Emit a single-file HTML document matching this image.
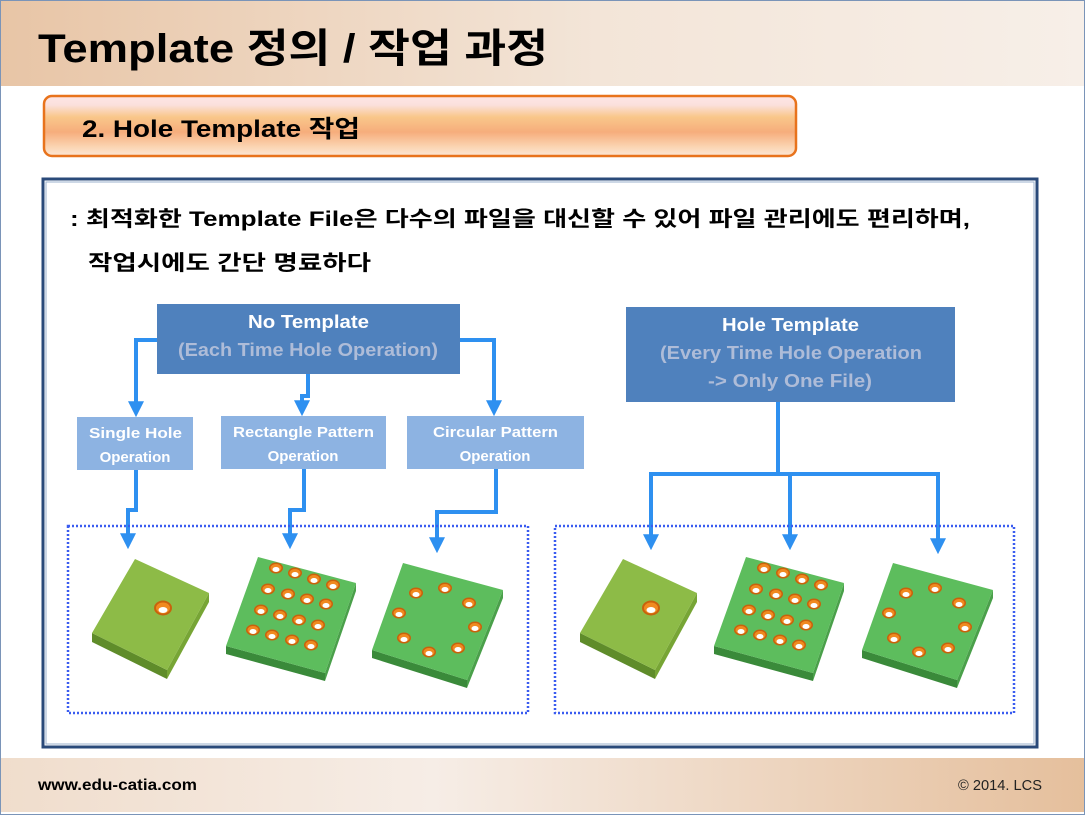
<!DOCTYPE html>
<html><head><meta charset="utf-8"><style>
html,body{margin:0;padding:0;background:#fff}
svg{display:block}
text{font-family:"Liberation Sans","Noto Sans CJK KR",sans-serif;font-weight:bold}
</style></head><body>
<svg width="1085" height="815" viewBox="0 0 1085 815" xmlns="http://www.w3.org/2000/svg">
<defs>
<linearGradient id="hdr" x1="0" x2="1" y1="0" y2="0"><stop offset="0" stop-color="#e8c5a6"/><stop offset="0.55" stop-color="#f3e5d8"/><stop offset="1" stop-color="#f7efe8"/></linearGradient>
<linearGradient id="ftr" x1="0" x2="1" y1="0" y2="0"><stop offset="0" stop-color="#f0ddcc"/><stop offset="0.4" stop-color="#f6ede6"/><stop offset="1" stop-color="#e5bf9c"/></linearGradient>
<linearGradient id="org" x1="0" x2="0" y1="0" y2="1"><stop offset="0" stop-color="#fde6e6"/><stop offset="0.15" stop-color="#fbe0dc"/><stop offset="0.35" stop-color="#f9c78a"/><stop offset="0.6" stop-color="#f6ad7c"/><stop offset="0.85" stop-color="#fbd5b3"/><stop offset="1" stop-color="#fce7d6"/></linearGradient>
<g id="hole"><ellipse rx="7" ry="5.5" fill="#c8620c"/><ellipse rx="5.5" ry="4" fill="#f08a20"/><ellipse cy="1.5" rx="3.5" ry="2.5" fill="#fff"/></g>
<g id="bighole"><ellipse rx="9" ry="7.5" fill="#c8620c"/><ellipse rx="7" ry="5.5" fill="#f08a20"/><ellipse cy="2" rx="4.5" ry="3" fill="#fff"/></g>
<marker id="ah" viewBox="0 0 10 10" refX="3" refY="5" markerWidth="4" markerHeight="4" orient="auto" markerUnits="strokeWidth"><path d="M0,0 L10,5 L0,10 z" fill="#2e90f0"/></marker>
<g id="p1">
<polygon points="92,633 167,670 167,679 92,642" fill="#5f8c2a"/>
<polygon points="167,670 209,593 209,602 167,679" fill="#77a535"/>
<polygon points="92,633 135,559 209,593 167,670" fill="#8dbb47"/>
<use href="#bighole" x="163" y="608"/>
</g>
<g id="p2">
<polygon points="226,646 325,673 325,681 226,654" fill="#3a8a3a"/>
<polygon points="325,673 356,583 356,591 325,681" fill="#4aa04a"/>
<polygon points="226,646 258,557 356,583 325,673" fill="#5dbd5d"/>
<use href="#hole" x="276" y="568"/><use href="#hole" x="295" y="573"/><use href="#hole" x="314" y="579"/><use href="#hole" x="333" y="585"/>
<use href="#hole" x="268" y="589"/><use href="#hole" x="288" y="594"/><use href="#hole" x="307" y="599"/><use href="#hole" x="326" y="604"/>
<use href="#hole" x="261" y="610"/><use href="#hole" x="280" y="615"/><use href="#hole" x="299" y="620"/><use href="#hole" x="318" y="625"/>
<use href="#hole" x="253" y="630"/><use href="#hole" x="272" y="635"/><use href="#hole" x="292" y="640"/><use href="#hole" x="311" y="645"/>
</g>
<g id="p3">
<polygon points="372,650 467,680 467,688 372,658" fill="#3a8a3a"/>
<polygon points="467,680 503,590 503,598 467,688" fill="#4aa04a"/>
<polygon points="372,650 403,563 503,590 467,680" fill="#5dbd5d"/>
<use href="#hole" x="416" y="593"/><use href="#hole" x="445" y="588"/><use href="#hole" x="469" y="603"/><use href="#hole" x="399" y="613"/>
<use href="#hole" x="475" y="627"/><use href="#hole" x="404" y="638"/><use href="#hole" x="429" y="652"/><use href="#hole" x="458" y="648"/>
</g>
</defs>
<rect x="0" y="0" width="1085" height="815" fill="#fff"/>
<rect x="0" y="0" width="1085" height="86" fill="url(#hdr)"/>
<text x="38" y="62" font-size="40" fill="#000" textLength="510" lengthAdjust="spacingAndGlyphs">Template 정의 / 작업 과정</text>
<rect x="44" y="96" width="752" height="60" rx="8" fill="url(#org)" stroke="#e8731c" stroke-width="2.5"/>
<text x="82" y="137" font-size="24" fill="#000" textLength="278" lengthAdjust="spacingAndGlyphs">2. Hole Template 작업</text>
<rect x="43" y="179" width="994" height="568" fill="#fff" stroke="#2a4a7a" stroke-width="3"/>
<rect x="46" y="182" width="988" height="562" fill="none" stroke="#9bb1cc" stroke-width="1"/>
<text x="70" y="226" font-size="21" fill="#000" textLength="900" lengthAdjust="spacingAndGlyphs">: 최적화한 Template File은 다수의 파일을 대신할 수 있어 파일 관리에도 편리하며,</text>
<text x="88" y="270" font-size="21" fill="#000" textLength="283" lengthAdjust="spacingAndGlyphs">작업시에도 간단 명료하다</text>

<rect x="157" y="304" width="303" height="70" fill="#4f81bd"/>
<text x="248" y="328" font-size="18" fill="#fff" textLength="121" lengthAdjust="spacingAndGlyphs">No Template</text>
<text x="178" y="356" font-size="18" fill="#aebcd8" textLength="260" lengthAdjust="spacingAndGlyphs">(Each Time Hole Operation)</text>
<rect x="77" y="417" width="116" height="53" fill="#8db3e2"/>
<text x="89" y="438" font-size="15" fill="#fff" textLength="93" lengthAdjust="spacingAndGlyphs">Single Hole</text>
<text x="135" y="462" font-size="15" fill="#fff" text-anchor="middle">Operation</text>
<rect x="221" y="416" width="165" height="53" fill="#8db3e2"/>
<text x="233" y="437" font-size="15" fill="#fff" textLength="141" lengthAdjust="spacingAndGlyphs">Rectangle Pattern</text>
<text x="303" y="461" font-size="15" fill="#fff" text-anchor="middle">Operation</text>
<rect x="407" y="416" width="177" height="53" fill="#8db3e2"/>
<text x="433" y="437" font-size="15" fill="#fff" textLength="125" lengthAdjust="spacingAndGlyphs">Circular Pattern</text>
<text x="495" y="461" font-size="15" fill="#fff" text-anchor="middle">Operation</text>
<rect x="626" y="307" width="329" height="95" fill="#4f81bd"/>
<text x="722" y="331" font-size="18" fill="#fff" textLength="137" lengthAdjust="spacingAndGlyphs">Hole Template</text>
<text x="660" y="359" font-size="18" fill="#aebcd8" textLength="262" lengthAdjust="spacingAndGlyphs">(Every Time Hole Operation</text>
<text x="708" y="387" font-size="18" fill="#aebcd8" textLength="164" lengthAdjust="spacingAndGlyphs">-&gt; Only One File)</text>

<g fill="none" stroke="#2e90f0" stroke-width="4" marker-end="url(#ah)">
<polyline points="157,340 136,340 136,406"/>
<polyline points="308,374 308,396 302,396 302,405"/>
<polyline points="460,340 494,340 494,405"/>
<polyline points="136,470 136,510 128,510 128,538"/>
<polyline points="304,469 304,510 290,510 290,538"/>
<polyline points="496,469 496,512 437,512 437,542"/>
<polyline points="651,474 651,539"/>
<polyline points="790,474 790,539"/>
<polyline points="938,474 938,543"/>
</g>
<polyline points="778,402 778,474" fill="none" stroke="#2e90f0" stroke-width="4"/>
<polyline points="649,474 940,474" fill="none" stroke="#2e90f0" stroke-width="4"/>

<rect x="68" y="526" width="460" height="187" fill="none" stroke="#3a5cf0" stroke-width="2.5" stroke-dasharray="2,2"/>
<rect x="555" y="526" width="459" height="187" fill="none" stroke="#3a5cf0" stroke-width="2.5" stroke-dasharray="2,2"/>
<use href="#p1"/><use href="#p2"/><use href="#p3"/>
<use href="#p1" x="488"/><use href="#p2" x="488"/><use href="#p3" x="490"/>

<rect x="0" y="758" width="1085" height="54" fill="url(#ftr)"/>
<text x="38" y="790" font-size="16" fill="#000" textLength="159" lengthAdjust="spacingAndGlyphs">www.edu-catia.com</text>
<text x="958" y="790" font-size="15" fill="#222" style="font-weight:normal" textLength="84" lengthAdjust="spacingAndGlyphs">© 2014. LCS</text>
<rect x="0.5" y="0.5" width="1084" height="814" fill="none" stroke="#7a94b8" stroke-width="1"/>
</svg>
</body></html>
